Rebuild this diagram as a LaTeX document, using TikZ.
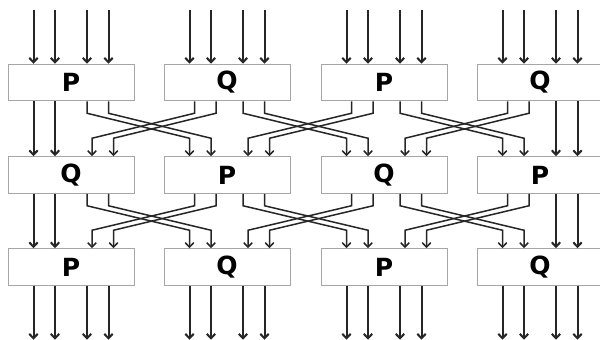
\documentclass[tikz,border=0pt]{standalone}
\usepackage{fontspec}
\setsansfont{DejaVu Sans}
\usetikzlibrary{arrows.meta,calc}

\begin{document}
\begin{tikzpicture}[
  x=1pt, y=-1pt,
  blk/.style={draw=gray!70, fill=white, line width=1pt,
              minimum width=126pt, minimum height=36.5pt, inner sep=0pt,
              font=\sffamily\bfseries\fontsize{25}{25}\selectfont},
  arr/.style={-{Straight Barb[length=4.5pt,width=8.5pt]}, line width=2pt, black!85},
  xarr/.style={arr, line width=1.5pt},
]
  \clip (0,0) rectangle (600,340);

  % first row
  \node[blk] (r1c1) at (71,82.5)  {P};
  \node[blk] (r1c2) at (227,82.5) {Q};
  \node[blk] (r1c3) at (384,82.5) {P};
  \node[blk] (r1c4) at (540,82.5) {Q};

  % second row
  \node[blk] (r2c1) at (71,175)  {Q};
  \node[blk] (r2c2) at (227,175) {P};
  \node[blk] (r2c3) at (384,175) {Q};
  \node[blk] (r2c4) at (540,175) {P};

  % third row
  \node[blk] (r3c1) at (71,267)  {P};
  \node[blk] (r3c2) at (227,267) {Q};
  \node[blk] (r3c3) at (384,267) {P};
  \node[blk] (r3c4) at (540,267) {Q};

  % inputs on top, outputs at the bottom
  \foreach \ca in {1,...,4}
    \foreach \dx [count=\w] in {-37.5,-16,16,37.5} {
      \coordinate (in\ca-\w)  at ($(r1c\ca.north)+(\dx,-54)$);
      \coordinate (out\ca-\w) at ($(r3c\ca.south)+(\dx,54)$);
      \draw[arr] (in\ca-\w) -- ($(r1c\ca.north)+(\dx,0)$);
      \draw[arr] ($(r3c\ca.south)+(\dx,0)$) -- (out\ca-\w);
    }

  % between rows: outer lanes pass straight, neighbours swap inner lanes
  \foreach \ra/\rb in {1/2,2/3} {
    \foreach \dx in {-37.5,-16}
      \draw[arr] ($(r\ra c1.south)+(\dx,0)$) -- ($(r\rb c1.north)+(\dx,0)$);
    \foreach \dx in {16,37.5}
      \draw[arr] ($(r\ra c4.south)+(\dx,0)$) -- ($(r\rb c4.north)+(\dx,0)$);
    \foreach \ca/\cb in {1/2,2/3,3/4}
      \foreach \dx/\tx in {16/-37.5,37.5/-16} {
        \draw[xarr] ($(r\ra c\ca.south)+(\dx,0)$) -- ++(0,12)
          -- ($(r\rb c\cb.north)+(\tx,-18)$) -- ($(r\rb c\cb.north)+(\tx,0)$);
        \draw[xarr] ($(r\ra c\cb.south)+(\tx+5,0)$) -- ++(0,12)
          -- ($(r\rb c\ca.north)+(\dx+5,-18)$) -- ($(r\rb c\ca.north)+(\dx+5,0)$);
      }
  }
\end{tikzpicture}
\end{document}
